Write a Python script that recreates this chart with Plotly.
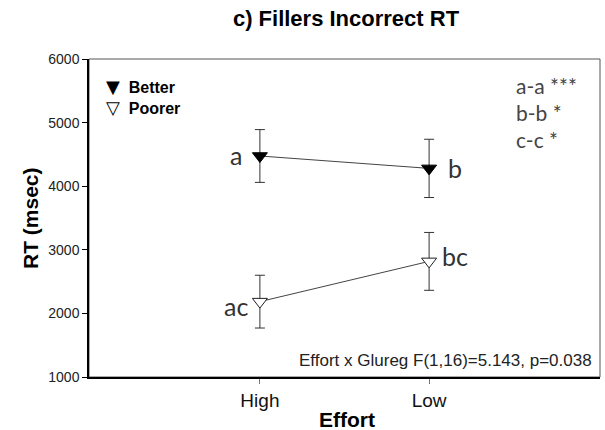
import plotly.graph_objects as go

# Effort condition categories
effort_levels = ["High", "Low"]
x_pos = [0, 1]

# Mean RT (msec) and error bar half-widths per group
better_rt = [4475, 4280]
better_err = [415, 458]
poorer_rt = [2185, 2818]
poorer_err = [415, 455]

# Letters marking significant pairwise contrasts
better_letters = ["a", "b"]
poorer_letters = ["ac", "bc"]

group_names = ["Better", "Poorer"]
group_symbols = ["\u25BC", "\u25BD"]

contrast_notes = ["a-a ***", "b-b *", "c-c *"]
interaction_note = "Effort x Glureg F(1,16)=5.143, p=0.038"

LINE_GRAY = "#444444"
ERR_GRAY = "#333333"
HUMANIST = "Lato, Open Sans, sans-serif"
ARIAL = "Liberation Sans, Arial, sans-serif"

# plot-area geometry in pixels (used to place free text)
PL, PR, PT, PB = 89, 600, 59, 377.5


def px_x(px):
    return (px - PL) / (PR - PL)


def px_y(py):
    return (PB - py) / (PB - PT)


fig = go.Figure()

fig.add_trace(go.Scatter(
    x=x_pos, y=better_rt, mode="lines+markers", showlegend=False,
    line=dict(color=LINE_GRAY, width=1),
    marker=dict(symbol="triangle-down", size=13, color="black",
                line=dict(color="black", width=1)),
    error_y=dict(type="data", array=better_err, color=ERR_GRAY,
                 thickness=1, width=5),
))
fig.add_trace(go.Scatter(
    x=x_pos, y=poorer_rt, mode="lines+markers", showlegend=False,
    line=dict(color=LINE_GRAY, width=1),
    marker=dict(symbol="triangle-down", size=13, color="white",
                line=dict(color="#222222", width=1)),
    error_y=dict(type="data", array=poorer_err, color=ERR_GRAY,
                 thickness=1, width=5),
))

annotations = []

# Key in the upper-left corner, one line per group
key_text = "<br>".join(
    f"<span style='font-family:DejaVu Sans;font-size:18px'>{sym}</span>"
    f"&nbsp;&nbsp;<b>{name}</b>"
    for sym, name in zip(group_symbols, group_names)
)
annotations.append(dict(
    x=px_x(104), y=px_y(97.5), xref="paper", yref="paper", text=key_text,
    showarrow=False, xanchor="left", yanchor="middle", align="left",
    font=dict(family=ARIAL, size=16, color="black"),
))

label_font = dict(family=HUMANIST, size=25, color="#333333")
for xi, yi, txt, xs, ys in zip(x_pos, better_rt, better_letters, [-16, 17], [1, 0]):
    annotations.append(dict(
        x=xi, y=yi, xref="x", yref="y", text=txt, showarrow=False,
        xanchor="right" if xs < 0 else "left", xshift=xs, yshift=ys,
        font=label_font,
    ))
for xi, yi, txt, xs, ys in zip(x_pos, poorer_rt, poorer_letters, [-10, 11], [-4, 5]):
    annotations.append(dict(
        x=xi, y=yi, xref="x", yref="y", text=txt, showarrow=False,
        xanchor="right" if xs < 0 else "left", xshift=xs, yshift=ys,
        font=label_font,
    ))

for i, note in enumerate(contrast_notes):
    annotations.append(dict(
        x=px_x(514), y=px_y(86 + i * 27), xref="paper", yref="paper", text=note,
        showarrow=False, xanchor="left", yanchor="middle",
        font=dict(family=HUMANIST, size=21, color="#444444"),
    ))

annotations.append(dict(
    x=px_x(594), y=px_y(361), xref="paper", yref="paper", text=interaction_note,
    showarrow=False, xanchor="right", yanchor="middle",
    font=dict(family=ARIAL, size=17, color="#222222"),
))

# Axis titles
annotations.append(dict(
    x=px_x(347), y=px_y(420), xref="paper", yref="paper", text="<b>Effort</b>",
    showarrow=False, xanchor="center", yanchor="middle",
    font=dict(family=ARIAL, size=21, color="black"),
))
annotations.append(dict(
    x=px_x(30), y=0.5, xref="paper", yref="paper", text="<b>RT (msec)</b>",
    showarrow=False, xanchor="center", yanchor="middle", textangle=-90,
    font=dict(family=ARIAL, size=21, color="black"),
))

fig.update_layout(
    width=605, height=430,
    margin=dict(l=PL, r=605 - PR, t=PT, b=430 - PB),
    paper_bgcolor="white", plot_bgcolor="white",
    font=dict(family=ARIAL, color="#111111"),
    showlegend=False,
    title=dict(text="<b>c) Fillers Incorrect RT</b>", x=346 / 605, xanchor="center",
               y=1 - 18 / 430, yanchor="middle",
               font=dict(size=22, color="black")),
    annotations=annotations,
    shapes=[dict(type="rect", xref="paper", yref="paper", x0=0, y0=0, x1=1, y1=1,
                 line=dict(color="#555555", width=1), layer="below")],
)

fig.update_xaxes(
    range=[-1.01, 2.01], tickvals=x_pos, ticktext=effort_levels,
    showgrid=False, zeroline=False,
    showline=True, linecolor="black", linewidth=1.5,
    ticks="outside", ticklen=5, tickcolor="#777777",
    tickfont=dict(size=19, color="#111111"),
)
fig.update_yaxes(
    range=[1000, 6000], tickvals=[1000, 2000, 3000, 4000, 5000, 6000],
    showgrid=False, zeroline=False,
    showline=True, linecolor="black", linewidth=1.5,
    ticks="outside", ticklen=5, tickcolor="black",
    tickfont=dict(size=14, color="#222222"),
)

fig.write_html("out.html")
